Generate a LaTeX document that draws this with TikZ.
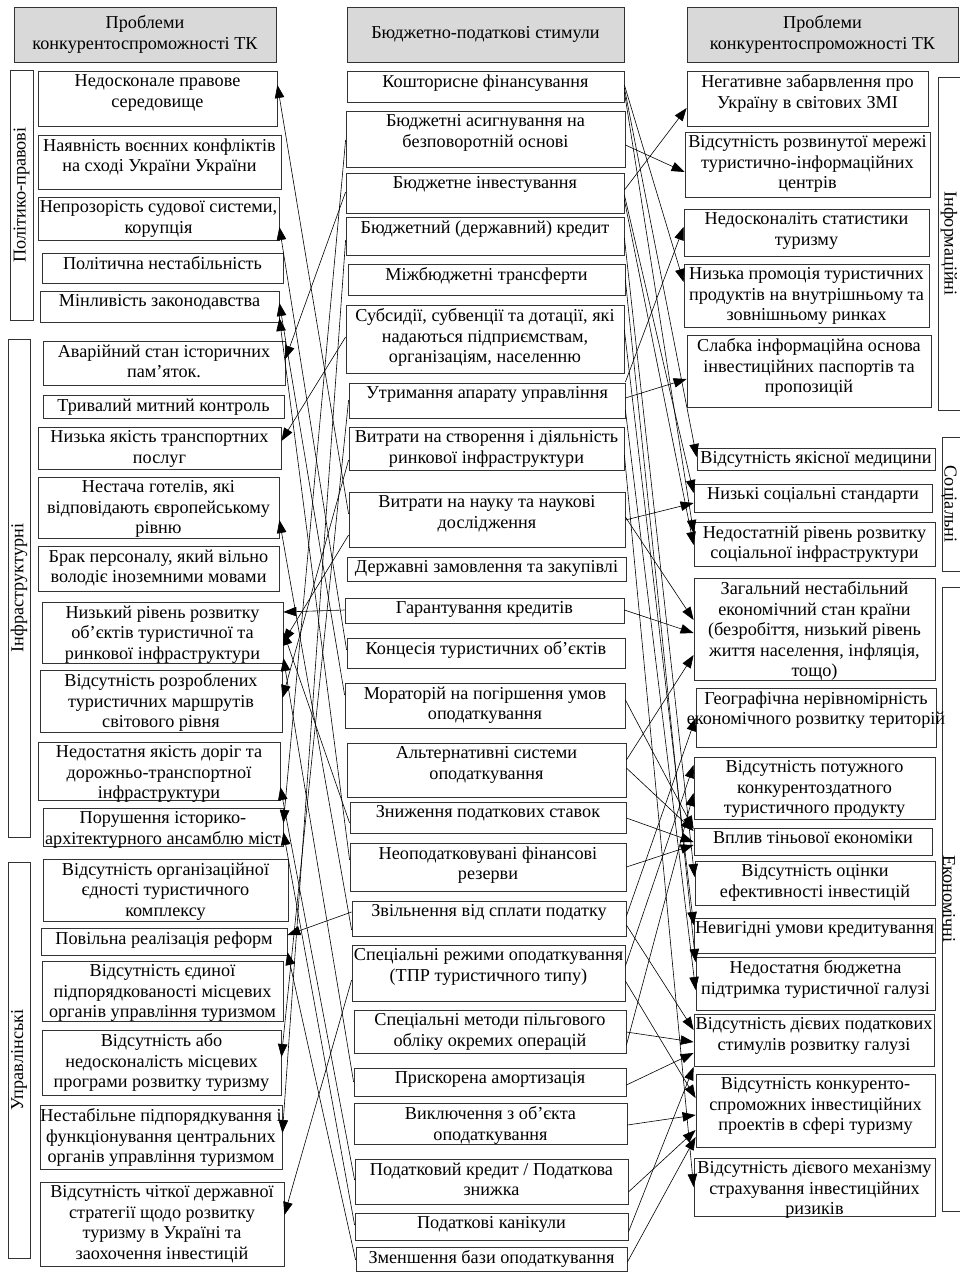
\documentclass[tikz,border=0pt]{standalone}
\usepackage{fontspec}
\setmainfont{Liberation Serif}
\usetikzlibrary{arrows.meta}
\tikzset{
  boxframe/.style={draw=black!80, line width=0.8pt, inner sep=0pt},
  boxtext/.style={anchor=north, align=center, inner sep=2.5pt, yshift=-1.5pt, font=\fontsize{18.2}{20.5}\selectfont},
  headbox/.style={boxframe, fill=black!15, align=center, font=\fontsize{18.2}{21}\selectfont},
  sidebox/.style={boxframe, font=\fontsize{18.2}{20.5}\selectfont},
  sidetext/.style={inner sep=0pt, font=\fontsize{18.2}{20.5}\selectfont},
  conn/.style={line width=0.6pt, -{Triangle[length=13pt,width=9.5pt]}},
}
\newcommand{\bx}[6]{%
  \node[boxframe, minimum width={(#4-#2)*1pt}, minimum height={(#5-#3)*1pt}] (#1) at ({(#2+#4)/2},{-(#3+#5)/2}) {};
  \node[boxtext] (#1t) at (#1.north) {#6};
}
\newcommand{\hbx}[6]{%
  \node[headbox, minimum width={(#4-#2)*1pt}, minimum height={(#5-#3)*1pt}] (#1) at ({(#2+#4)/2},{-(#3+#5)/2}) {#6};
}
\newcommand{\sbx}[7]{%
  \node[sidebox, rotate=#7, minimum width={(#5-#3)*1pt}, minimum height={(#4-#2)*1pt}] (#1) at ({(#2+#4)/2},{-(#3+#5)/2}) {#6};
}
% right side frames: frame runs off the page, label kept inside
\newcommand{\rsbx}[6]{%
  \node[boxframe, minimum width={(#4-#2)*1pt}, minimum height={(#5-#3)*1pt}] (#1) at ({(#2+#4)/2},{-(#3+#5)/2}) {};
  \node[sidetext, rotate=-90] (#1t) at (949,{-(#3+#5)/2}) {#6};
}
\newcommand{\lconn}[4]{\draw[conn] (#1.west |- 0,-#2) -- (#3.east |- 0,-#4);}
\newcommand{\rconn}[4]{\draw[conn] (#1.east |- 0,-#2) -- (#3.west |- 0,-#4);}
\begin{document}
\begin{tikzpicture}[x=1pt,y=1pt]
\fill[white] (0,0) rectangle (959,-1272);
\useasboundingbox (0,0) rectangle (959,-1272);
% headers
\hbx{h1}{14}{7}{276}{62}{Проблеми\\конкурентоспроможності ТК}
\hbx{h2}{347}{7}{624}{62}{Бюджетно-податкові стимули}
\hbx{h3}{687}{7}{958}{62}{Проблеми\\конкурентоспроможності ТК}
% side frames
\sbx{s1}{10}{70}{33}{320}{Політико-правові}{90}
\sbx{s2}{8}{339}{30}{837}{Інфраструктурні}{90}
\sbx{s3}{8}{862}{30}{1258}{Управлінські}{90}
\rsbx{s4}{938}{77}{975}{410}{Інформаційні}
\rsbx{s5}{942}{437}{975}{571}{Соціальні}
\rsbx{s6}{942}{587}{975}{1211}{Економічні}
% left column
\bx{l1}{38}{71}{277}{126}{Недосконале правове\\середовище}
\bx{l2}{38}{135}{281}{189}{Наявність воєнних конфліктів\\на сході України України}
\bx{l3}{38}{197}{279}{240}{Непрозорість судової системи,\\корупція}
\bx{l4}{42}{253}{283}{283}{Політична нестабільність}
\bx{l5}{40}{291}{279}{322}{Мінливість законодавства}
\bx{l6}{43}{341}{285}{385}{Аварійний стан історичних\\пам’яток.}
\bx{l7}{43}{395}{284}{418}{Тривалий митний контроль}
\bx{l8}{38}{427}{281}{469}{Низька якість транспортних\\послуг}
\bx{l9}{38}{477}{279}{538}{Нестача готелів, які\\відповідають європейському\\рівню}
\bx{l10}{38}{546}{279}{591}{Брак персоналу, який вільно\\володіє іноземними мовами}
\bx{l11}{42}{602}{283}{663}{Низький рівень розвитку\\об’єктів туристичної та\\ринкової інфраструктури}
\bx{l12}{40}{670}{282}{732}{Відсутність розроблених\\туристичних маршрутів\\світового рівня}
\bx{l13}{38}{742}{280}{800}{Недостатня якість доріг та\\дорожньо-транспортної\\інфраструктури}
\bx{l14}{43}{808}{283}{846}{Порушення історико-\\архітектурного ансамблю міст}
\bx{l15}{43}{859}{288}{921}{Відсутність організаційної\\єдності туристичного\\комплексу}
\bx{l16}{41}{928}{287}{955}{Повільна реалізація реформ}
\bx{l17}{42}{961}{283}{1021}{Відсутність єдиної\\підпорядкованості місцевих\\органів управління туризмом}
\bx{l18}{42}{1030}{281}{1095}{Відсутність або\\недосконалість місцевих\\програми розвитку туризму}
\bx{l19}{40}{1105}{282}{1169}{Нестабільне підпорядкування і\\функціонування центральних\\органів управління туризмом}
\bx{l20}{40}{1182}{284}{1266}{Відсутність чіткої державної\\стратегії щодо розвитку\\туризму в Україні та\\заохочення інвестицій}
% middle column
\bx{m1}{347}{71}{624}{102}{Кошторисне фінансування}
\bx{m2}{346}{111}{625}{167}{Бюджетні асигнування на\\безповоротній основі}
\bx{m3}{346}{173}{624}{213}{Бюджетне інвестування}
\bx{m4}{346}{217}{624}{255}{Бюджетний (державний) кредит}
\bx{m5}{348}{264}{625}{295}{Міжбюджетні трансферти}
\bx{m6}{346}{305}{624}{373}{Субсидії, субвенції та дотації, які\\надаються підприємствам,\\організаціям, населенню}
\bx{m7}{349}{383}{625}{418}{Утримання апарату управління}
\bx{m8}{349}{427}{624}{470}{Витрати на створення і діяльність\\ринкової інфраструктури}
\bx{m9}{349}{492}{625}{547}{Витрати на науку та наукові\\дослідження}
\bx{m10}{347}{557}{626}{581}{Державні замовлення та закупівлі}
\bx{m11}{345}{598}{624}{623}{Гарантування кредитів}
\bx{m12}{347}{638}{625}{668}{Концесія туристичних об’єктів}
\bx{m13}{345}{683}{625}{728}{Мораторій на погіршення умов\\оподаткування}
\bx{m14}{347}{743}{626}{797}{Альтернативні системи\\оподаткування}
\bx{m15}{350}{802}{626}{833}{Зниження податкових ставок}
\bx{m16}{350}{843}{626}{891}{Неоподатковувані фінансові\\резерви}
\bx{m17}{352}{901}{626}{936}{Звільнення від сплати податку}
\bx{m18}{352}{945}{625}{1001}{Спеціальні режими оподаткування\\(ТПР туристичного типу)}
\bx{m19}{354}{1010}{626}{1053}{Спеціальні методи пільгового\\обліку окремих операцій}
\bx{m20}{354}{1068}{626}{1096}{Прискорена амортизація}
\bx{m21}{354}{1103}{627}{1144}{Виключення з об’єкта\\оподаткування}
\bx{m22}{355}{1159}{628}{1204}{Податковий кредит / Податкова\\знижка}
\bx{m23}{355}{1213}{628}{1240}{Податкові канікули}
\bx{m24}{356}{1247}{627}{1271}{Зменшення бази оподаткування}
% right column
\bx{r1}{687}{71}{928}{126}{Негативне забарвлення про\\Україну в світових ЗМІ}
\bx{r2}{685}{132}{930}{197}{Відсутність розвинутої мережі\\туристично-інформаційних\\центрів}
\bx{r3}{684}{209}{929}{256}{Недосконаліть статистики\\туризму}
\bx{r4}{684}{264}{929}{327}{Низька промоція туристичних\\продуктів на внутрішньому та\\зовнішньому ринках}
\bx{r5}{687}{335}{931}{407}{Слабка інформаційна основа\\інвестиційних паспортів та\\пропозицій}
\bx{r6}{697}{448}{935}{470}{Відсутність якісної медицини}
\bx{r7}{694}{484}{932}{512}{Низькі соціальні стандарти}
\bx{r8}{694}{522}{935}{566}{Недостатній рівень розвитку\\соціальної інфраструктури}
\bx{r9}{694}{578}{935}{680}{Загальний нестабільний\\економічний стан країни\\(безробіття, низький рівень\\життя населення, інфляція,\\тощо)}
\bx{r10}{696}{688}{936}{747}{Географічна нерівномірність\\економічного розвитку територій}
\bx{r11}{694}{757}{935}{819}{Відсутність потужного\\конкурентоздатного\\туристичного продукту}
\bx{r12}{694}{828}{932}{855}{Вплив тіньової економіки}
\bx{r13}{695}{861}{935}{905}{Відсутність оцінки\\ефективності інвестицій}
\bx{r14}{694}{918}{935}{953}{Невигідні умови кредитування}
\bx{r15}{696}{957}{935}{1010}{Недостатня бюджетна\\підтримка туристичної галузі}
\bx{r16}{694}{1014}{934}{1066}{Відсутність дієвих податкових\\стимулів розвитку галузі}
\bx{r17}{696}{1074}{935}{1147}{Відсутність конкуренто-\\спроможних інвестиційних\\проектів в сфері туризму}
\bx{r18}{694}{1158}{935}{1216}{Відсутність дієвого механізму\\страхування інвестиційних\\ризиків}
% left connectors
\lconn{m9}{514}{l1}{85}
\lconn{m12}{650}{l3}{227}
\lconn{m13}{695}{l5}{303}
\lconn{m16}{860}{l5}{318}
\lconn{m3}{192}{l6}{359}
\lconn{m6}{337}{l8}{441}
\lconn{m17}{930}{l9}{520}
\lconn{m11}{610}{l11}{612}
\lconn{m9}{535}{l11}{642}
\lconn{m15}{823}{l11}{632}
\lconn{m20}{1082}{l11}{658}
\lconn{m8}{460}{l12}{698}
\lconn{m22}{1180}{l13}{787}
\lconn{m2}{140}{l14}{823}
\lconn{m23}{1225}{l14}{832}
\lconn{m17}{912}{l16}{935}
\lconn{m24}{1260}{l16}{952}
\lconn{m7}{400}{l18}{1057}
\lconn{m4}{240}{l19}{1133}
\lconn{m18}{980}{l20}{1215}
% right connectors
\rconn{m3}{190}{r1}{108}
\rconn{m2}{145}{r2}{172}
\rconn{m7}{382}{r3}{227}
\rconn{m1}{85}{r4}{282}
\rconn{m7}{398}{r5}{379}
\rconn{m1}{88}{r6}{457}
\rconn{m3}{195}{r7}{493}
\rconn{m9}{520}{r7}{503}
\rconn{m1}{92}{r8}{533}
\rconn{m3}{200}{r8}{545}
\rconn{m9}{517}{r9}{620}
\rconn{m11}{610}{r9}{633}
\rconn{m14}{760}{r9}{655}
\rconn{m17}{916}{r10}{718}
\rconn{m18}{966}{r11}{765}
\rconn{m19}{1045}{r11}{793}
\rconn{m13}{700}{r12}{829}
\rconn{m14}{768}{r12}{831}
\rconn{m15}{818}{r12}{842}
\rconn{m16}{867}{r12}{845}
\rconn{m4}{238}{r13}{877}
\rconn{m6}{330}{r14}{925}
\rconn{m5}{280}{r15}{962}
\rconn{m7}{410}{r15}{990}
\rconn{m17}{925}{r16}{1030}
\rconn{m19}{1032}{r16}{1042}
\rconn{m20}{1085}{r16}{1053}
\rconn{m23}{1232}{r16}{1067}
\rconn{m18}{981}{r17}{1098}
\rconn{m21}{1125}{r17}{1115}
\rconn{m22}{1192}{r17}{1130}
\rconn{m24}{1262}{r17}{1137}
\rconn{m8}{455}{r18}{1187}
\end{tikzpicture}
\end{document}
